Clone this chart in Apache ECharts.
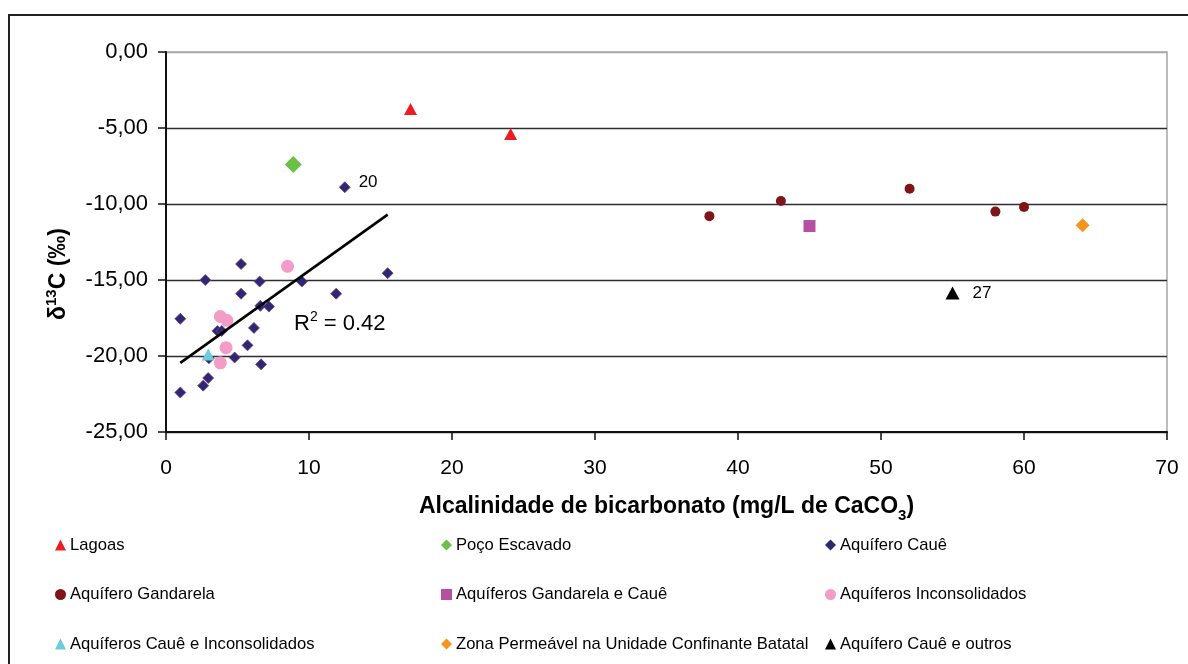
<!DOCTYPE html>
<html>
<head>
<meta charset="utf-8">
<script src="https://cdn.jsdelivr.net/npm/echarts@6/dist/echarts.min.js"></script>
<style>
  html, body { margin: 0; padding: 0; background: #ffffff; }
  #chart { width: 1188px; height: 664px; }
</style>
</head>
<body>
<div id="chart"></div>
<script>
// Alkalinity (mg/L CaCO3) vs. δ13C (‰) per sample group
const lagoasX = [17.1, 24.1];
const lagoasY = [-3.75, -5.4];

const pocoX = [8.9];
const pocoY = [-7.4];

const caueX = [5.25, 2.75, 6.55, 9.5, 15.5, 5.25, 11.9, 6.6, 7.2, 1.0, 3.6, 3.9, 6.15, 5.7, 4.8, 6.65, 3.0, 2.95, 2.6, 1.0, 12.5];
const caueY = [-13.95, -15.0, -15.1, -15.1, -14.55, -15.9, -15.9, -16.7, -16.75, -17.55, -18.35, -18.35, -18.15, -19.3, -20.1, -20.55, -20.15, -21.45, -21.95, -22.4, -8.9];
const caueTags = ['', '', '', '', '', '', '', '', '', '', '', '', '', '', '', '', '', '', '', '', '20'];

const gandarelaX = [38.0, 43.0, 52.0, 58.0, 60.0];
const gandarelaY = [-10.8, -9.8, -9.0, -10.5, -10.2];

const gandCaueX = [45.0];
const gandCaueY = [-11.45];

const inconsX = [8.5, 3.8, 4.25, 4.2, 3.8];
const inconsY = [-14.1, -17.4, -17.65, -19.45, -20.45];

const caueInconsX = [2.95];
const caueInconsY = [-19.9];

const zonaX = [64.1];
const zonaY = [-11.4];

const outrosX = [55.0];
const outrosY = [-15.85];
const outrosTags = ['27'];

// trend line endpoints and fit quality
const trendX = [1.0, 15.5];
const trendY = [-20.45, -10.7];
const trendR2 = '0.42';

const xTicks = [0, 10, 20, 30, 40, 50, 60, 70];
const yTicks = [-25, -20, -15, -10, -5, 0];

const FONT = 'Liberation Sans, Arial, sans-serif';

function pairs(xs, ys, tags) {
  return xs.map((x, i) => {
    const p = { value: [x, ys[i]] };
    if (tags && tags[i]) {
      p.label = { show: true, formatter: tags[i] };
    }
    return p;
  });
}

const tagLabel = {
  show: false,
  position: 'right',
  distance: 8,
  color: '#000',
  fontFamily: FONT,
  fontSize: 17,
  offset: [0, -5]
};

const chart = echarts.init(document.getElementById('chart'), null, { renderer: 'canvas' });

const names = {
  lagoas: 'Lagoas',
  poco: 'Poço Escavado',
  caue: 'Aquífero Cauê',
  gand: 'Aquífero Gandarela',
  gandCaue: 'Aquíferos Gandarela e Cauê',
  incons: 'Aquíferos Inconsolidados',
  caueIncons: 'Aquíferos Cauê e Inconsolidados',
  zona: 'Zona Permeável na Unidade Confinante Batatal',
  outros: 'Aquífero Cauê e outros'
};

const legendBase = {
  orient: 'vertical',
  top: 535,
  padding: 0,
  itemGap: 29.5,
  itemWidth: 11,
  itemHeight: 11,
  itemStyle: { borderWidth: 0, opacity: 1 },
  textStyle: { color: '#000', fontFamily: FONT, fontSize: 16.6, lineHeight: 20, padding: [0, 0, 0, -1] },
  selectedMode: false
};

const option = {
  backgroundColor: '#ffffff',
  animation: false,
  grid: {
    left: 166, top: 52, right: 21, bottom: 232,
    show: true, borderColor: '#a6a6a6', borderWidth: 1.5, backgroundColor: 'transparent'
  },
  graphic: [
    {
      type: 'rect',
      shape: { x: 9, y: 15, width: 1220, height: 700 },
      style: { fill: 'none', stroke: '#222', lineWidth: 2 },
      silent: true, z: -1
    },
    {
      type: 'text',
      left: 294, top: 310,
      style: {
        text: '{a|R}{s|2}{a| = ' + trendR2 + '}',
        rich: {
          a: { fontFamily: FONT, fontSize: 22, fill: '#000', lineHeight: 26, verticalAlign: 'bottom' },
          s: { fontFamily: FONT, fontSize: 14, fill: '#000', lineHeight: 26, padding: [0, 0, 11, 0], verticalAlign: 'bottom' }
        }
      },
      z: 10
    }
  ],
  legend: [
    Object.assign({}, legendBase, { left: 55, data: [names.lagoas, names.gand, names.caueIncons] }),
    Object.assign({}, legendBase, { left: 441, data: [names.poco, names.gandCaue, names.zona] }),
    Object.assign({}, legendBase, { left: 825, data: [names.caue, names.incons, names.outros] })
  ],
  xAxis: {
    type: 'value',
    min: xTicks[0], max: xTicks[xTicks.length - 1], interval: 10,
    axisLine: { show: true, onZero: false, lineStyle: { color: '#111', width: 2 } },
    axisTick: { show: true, inside: false, length: 8, lineStyle: { color: '#111', width: 1.5 } },
    axisLabel: { color: '#000', fontFamily: FONT, fontSize: 21, margin: 26 },
    splitLine: { show: false },
    name: '{a|Alcalinidade de bicarbonato (mg/L de CaCO}{s|3}{a|)}',
    nameLocation: 'middle',
    nameGap: 58,
    nameTextStyle: {
      rich: {
        a: { fontFamily: FONT, fontWeight: 'bold', fontSize: 23, color: '#000', lineHeight: 28, verticalAlign: 'bottom' },
        s: { fontFamily: FONT, fontWeight: 'bold', fontSize: 15, color: '#000', lineHeight: 28, padding: [0, 0, -5, 0], verticalAlign: 'bottom' }
      }
    }
  },
  yAxis: {
    type: 'value',
    min: yTicks[0], max: yTicks[yTicks.length - 1], interval: 5,
    axisLine: { show: true, onZero: false, lineStyle: { color: '#111', width: 2 } },
    axisTick: { show: true, inside: false, length: 8, lineStyle: { color: '#111', width: 1.5 } },
    axisLabel: {
      color: '#000', fontFamily: FONT, fontSize: 22, margin: 18,
      formatter: v => v.toFixed(2).replace('.', ',')
    },
    splitLine: {
      show: true,
      lineStyle: { color: ['#2e2e2e', '#2e2e2e', '#2e2e2e', '#2e2e2e', '#2e2e2e', '#a6a6a6'], width: 1.3 }
    },
    name: '{a|δ}{s|13}{a|C (‰)}',
    nameLocation: 'middle',
    nameGap: 96,
    nameRotate: 90,
    nameTextStyle: {
      padding: [0, 64, 0, 0],
      rich: {
        a: { fontFamily: FONT, fontWeight: 'bold', fontSize: 23, color: '#000', lineHeight: 28, verticalAlign: 'bottom' },
        s: { fontFamily: FONT, fontWeight: 'bold', fontSize: 15, color: '#000', lineHeight: 28, padding: [0, 0, 11, 0], verticalAlign: 'bottom' }
      }
    }
  },
  series: [
    {
      name: names.caue, type: 'scatter', symbol: 'diamond', symbolSize: 11,
      itemStyle: { color: '#2b2a70', borderColor: '#7e3a93', borderWidth: 0.8, opacity: 1 },
      label: tagLabel,
      data: pairs(caueX, caueY, caueTags), z: 3
    },
    {
      name: names.lagoas, type: 'scatter', symbol: 'triangle', symbolSize: [13, 12],
      itemStyle: { color: '#ed1c24', opacity: 1 },
      data: pairs(lagoasX, lagoasY), z: 3
    },
    {
      name: names.poco, type: 'scatter', symbol: 'diamond', symbolSize: 17,
      itemStyle: { color: '#6cbf47', opacity: 1 },
      data: pairs(pocoX, pocoY), z: 3
    },
    {
      name: names.gand, type: 'scatter', symbol: 'circle', symbolSize: 10,
      itemStyle: { color: '#7e1518', opacity: 1 },
      data: pairs(gandarelaX, gandarelaY), z: 3
    },
    {
      name: names.gandCaue, type: 'scatter', symbol: 'rect', symbolSize: 12,
      itemStyle: { color: '#b451a1', opacity: 1 },
      data: pairs(gandCaueX, gandCaueY), z: 3
    },
    {
      name: names.incons, type: 'scatter', symbol: 'circle', symbolSize: 13,
      itemStyle: { color: '#f39cc8', opacity: 1 },
      data: pairs(inconsX, inconsY), z: 4
    },
    {
      name: names.caueIncons, type: 'scatter', symbol: 'triangle', symbolSize: [13, 12],
      itemStyle: { color: '#6ccbdc', opacity: 1 },
      data: pairs(caueInconsX, caueInconsY), z: 4
    },
    {
      name: names.zona, type: 'scatter', symbol: 'diamond', symbolSize: 14,
      itemStyle: { color: '#f7941e', opacity: 1 },
      data: pairs(zonaX, zonaY), z: 3
    },
    {
      name: names.outros, type: 'scatter', symbol: 'triangle', symbolSize: [14, 13],
      itemStyle: { color: '#000000', opacity: 1 },
      label: Object.assign({}, tagLabel, { distance: 13, offset: [0, 0] }),
      data: pairs(outrosX, outrosY, outrosTags), z: 3
    },
    {
      name: 'trend', type: 'line', showSymbol: false, symbol: 'none',
      lineStyle: { color: '#000', width: 2.6 },
      data: trendX.map((x, i) => [x, trendY[i]]),
      z: 6, silent: true
    }
  ]
};

chart.setOption(option);
</script>
</body>
</html>
